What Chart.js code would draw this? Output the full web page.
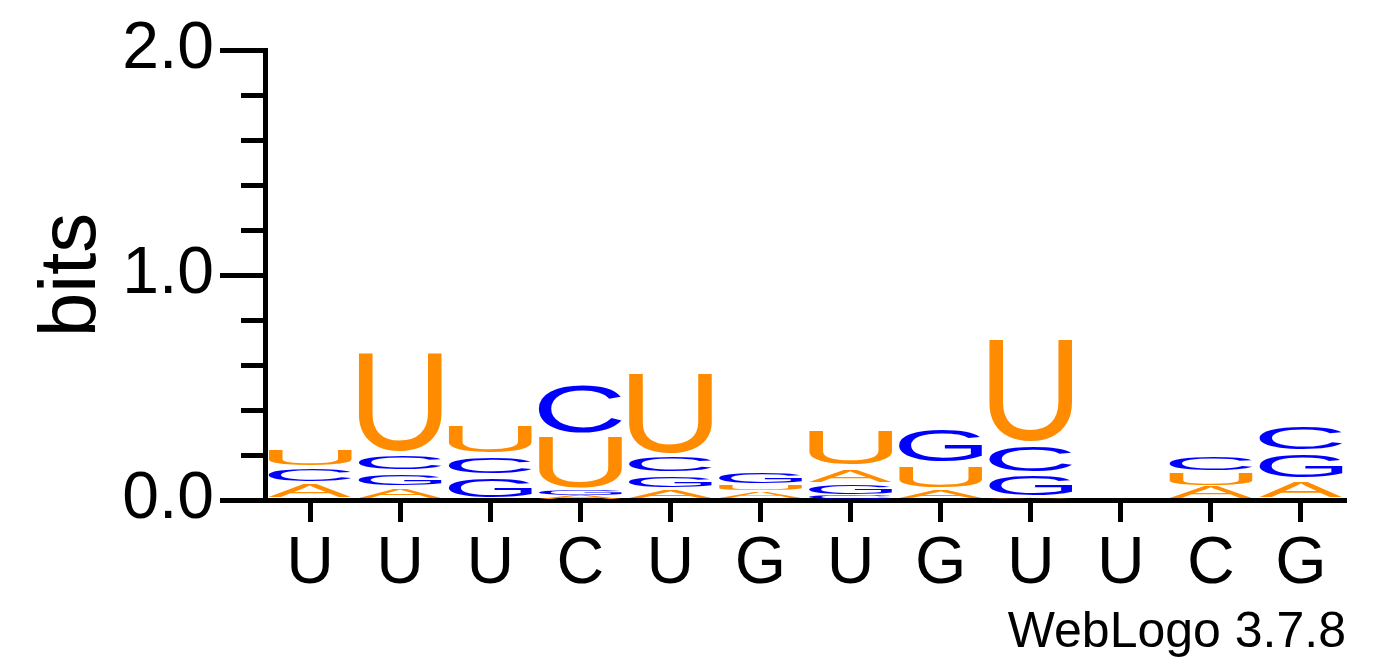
<!DOCTYPE html>
<html>
<head>
<meta charset="utf-8">
<title>WebLogo</title>
<script src="https://cdn.jsdelivr.net/npm/chart.js@4.4.1/dist/chart.umd.min.js"></script>
<style>
  html, body { margin: 0; padding: 0; background: #fff; }
  #wrap { width: 1392px; height: 667px; }
</style>
</head>
<body>
<div id="wrap"><canvas id="logoChart"></canvas></div>
<script>
const positions = ['U', 'U', 'U', 'C', 'U', 'G', 'U', 'G', 'U', 'U', 'C', 'G'];

// letters in each stack, from bottom to top
const stackLetters = [
    ['A', 'C', 'U'],
    ['A', 'G', 'C', 'U'],
    ['G', 'C', 'U'],
    ['A', 'G', 'U', 'C'],
    ['A', 'G', 'C', 'U'],
    ['A', 'U', 'G'],
    ['C', 'G', 'A', 'U'],
    ['A', 'U', 'G'],
    ['A', 'G', 'C', 'U'],
    [],
    ['A', 'U', 'C'],
    ['A', 'G', 'C']
];

// height of each letter in bits, same order
const stackBits = [
    [0.080, 0.062, 0.093],
    [0.053, 0.071, 0.080, 0.458],
    [0.107, 0.093, 0.138],
    [0.020, 0.025, 0.245, 0.235],
    [0.044, 0.071, 0.084, 0.373],
    [0.040, 0.030, 0.055],
    [0.020, 0.050, 0.075, 0.170],
    [0.045, 0.115, 0.160],
    [0.010, 0.107, 0.131, 0.472],
    [],
    [0.060, 0.060, 0.080],
    [0.090, 0.124, 0.120]
];

const yLabelTicks = [0, 1, 2];

const letterColors = { A: '#ff8c00', U: '#ff8c00', C: '#0000ff', G: '#0000ff' };

// one dataset per stack level
const depth = Math.max(...stackBits.map(s => s.length));
const datasets = [];
for (let k = 0; k < depth; k++) {
    datasets.push({
        data: stackBits.map(s => s[k] || 0),
        letters: stackLetters.map(s => s[k] || null),
        backgroundColor: 'rgba(0,0,0,0)',
        borderWidth: 0,
        barPercentage: 0.92,
        categoryPercentage: 1.0
    });
}

function isMajor(v) {
    return yLabelTicks.some(t => Math.abs(t - v) < 1e-6);
}

function drawGlyph(ctx, ch, left, top, w, h, color) {
    ctx.save();
    ctx.font = '200px "Liberation Sans", Arial, sans-serif';
    ctx.textAlign = 'left';
    ctx.textBaseline = 'alphabetic';
    const m = ctx.measureText(ch);
    const gw = m.actualBoundingBoxLeft + m.actualBoundingBoxRight;
    const gh = m.actualBoundingBoxAscent + m.actualBoundingBoxDescent;
    ctx.translate(left, top);
    ctx.scale(w / gw, h / gh);
    ctx.fillStyle = color;
    ctx.fillText(ch, m.actualBoundingBoxLeft, m.actualBoundingBoxAscent);
    ctx.restore();
}

// stretches each letter into the box of its bar
const glyphPlugin = {
    id: 'glyphs',
    afterDatasetsDraw(chart) {
        const ctx = chart.ctx;
        chart.data.datasets.forEach((ds, di) => {
            const meta = chart.getDatasetMeta(di);
            meta.data.forEach((bar, i) => {
                const letter = ds.letters[i];
                if (!letter) return;
                const p = bar.getProps(['x', 'y', 'base', 'width'], true);
                const top = Math.min(p.y, p.base);
                const h = Math.abs(p.base - p.y);
                if (h < 0.5) return;
                const inset = h > 15 ? 2.5 : (h > 6 ? 1 : 0);
                drawGlyph(ctx, letter, p.x - p.width / 2, top + inset, p.width, h - 2 * inset, letterColors[letter]);
            });
        });
    }
};

// short minor ticks on the y axis
const minorTickPlugin = {
    id: 'minorTicks',
    afterDraw(chart) {
        const ctx = chart.ctx;
        const y = chart.scales.y;
        ctx.save();
        ctx.strokeStyle = '#000';
        ctx.lineWidth = 5;
        y.ticks.forEach(t => {
            if (isMajor(t.value)) return;
            const py = Math.round(y.getPixelForValue(t.value)) + 0.5;
            ctx.beginPath();
            ctx.moveTo(y.right - 24, py);
            ctx.lineTo(y.right, py);
            ctx.stroke();
        });
        ctx.restore();
    }
};

const ctx = document.getElementById('logoChart').getContext('2d');
const myChart = new Chart(ctx, {
    type: 'bar',
    data: { labels: positions, datasets: datasets },
    plugins: [glyphPlugin, minorTickPlugin],
    options: {
        responsive: true,
        maintainAspectRatio: false,
        animation: false,
        events: [],
        layout: { padding: { top: 50, right: 46, bottom: 0, left: 0 } },
        plugins: { legend: { display: false }, tooltip: { enabled: false } },
        scales: {
            x: {
                stacked: true,
                grid: {
                    offset: false,
                    drawOnChartArea: false,
                    tickLength: 22,
                    tickWidth: 5,
                    tickColor: '#000'
                },
                border: { display: true, color: '#000', width: 5 },
                ticks: {
                    autoSkip: false,
                    color: '#000',
                    padding: 3,
                    font: { family: '"Liberation Sans", Arial, sans-serif', size: 66 }
                },
                title: {
                    display: true,
                    text: 'WebLogo 3.7.8',
                    align: 'end',
                    color: '#000',
                    padding: { top: 0, bottom: 4 },
                    font: { family: '"Liberation Sans", Arial, sans-serif', size: 50 }
                },
                afterFit(scale) { scale.height = 167; }
            },
            y: {
                stacked: true,
                min: 0,
                max: 2,
                grid: {
                    drawOnChartArea: false,
                    tickLength: 45,
                    tickWidth: 5,
                    tickColor: c => (c.tick && isMajor(c.tick.value)) ? '#000' : 'rgba(0,0,0,0)'
                },
                border: { display: true, color: '#000', width: 5 },
                ticks: {
                    autoSkip: false,
                    stepSize: 0.2,
                    color: '#000',
                    padding: 6,
                    font: { family: '"Liberation Sans", Arial, sans-serif', size: 66 },
                    callback: v => isMajor(v) ? Number(v).toFixed(1) : ''
                },
                title: {
                    display: true,
                    text: 'bits',
                    color: '#000',
                    padding: { top: 25, bottom: 0 },
                    font: { family: '"Liberation Sans", Arial, sans-serif', size: 80 }
                },
                afterFit(scale) { scale.width = 265; }
            }
        }
    }
});
</script>
</body>
</html>
